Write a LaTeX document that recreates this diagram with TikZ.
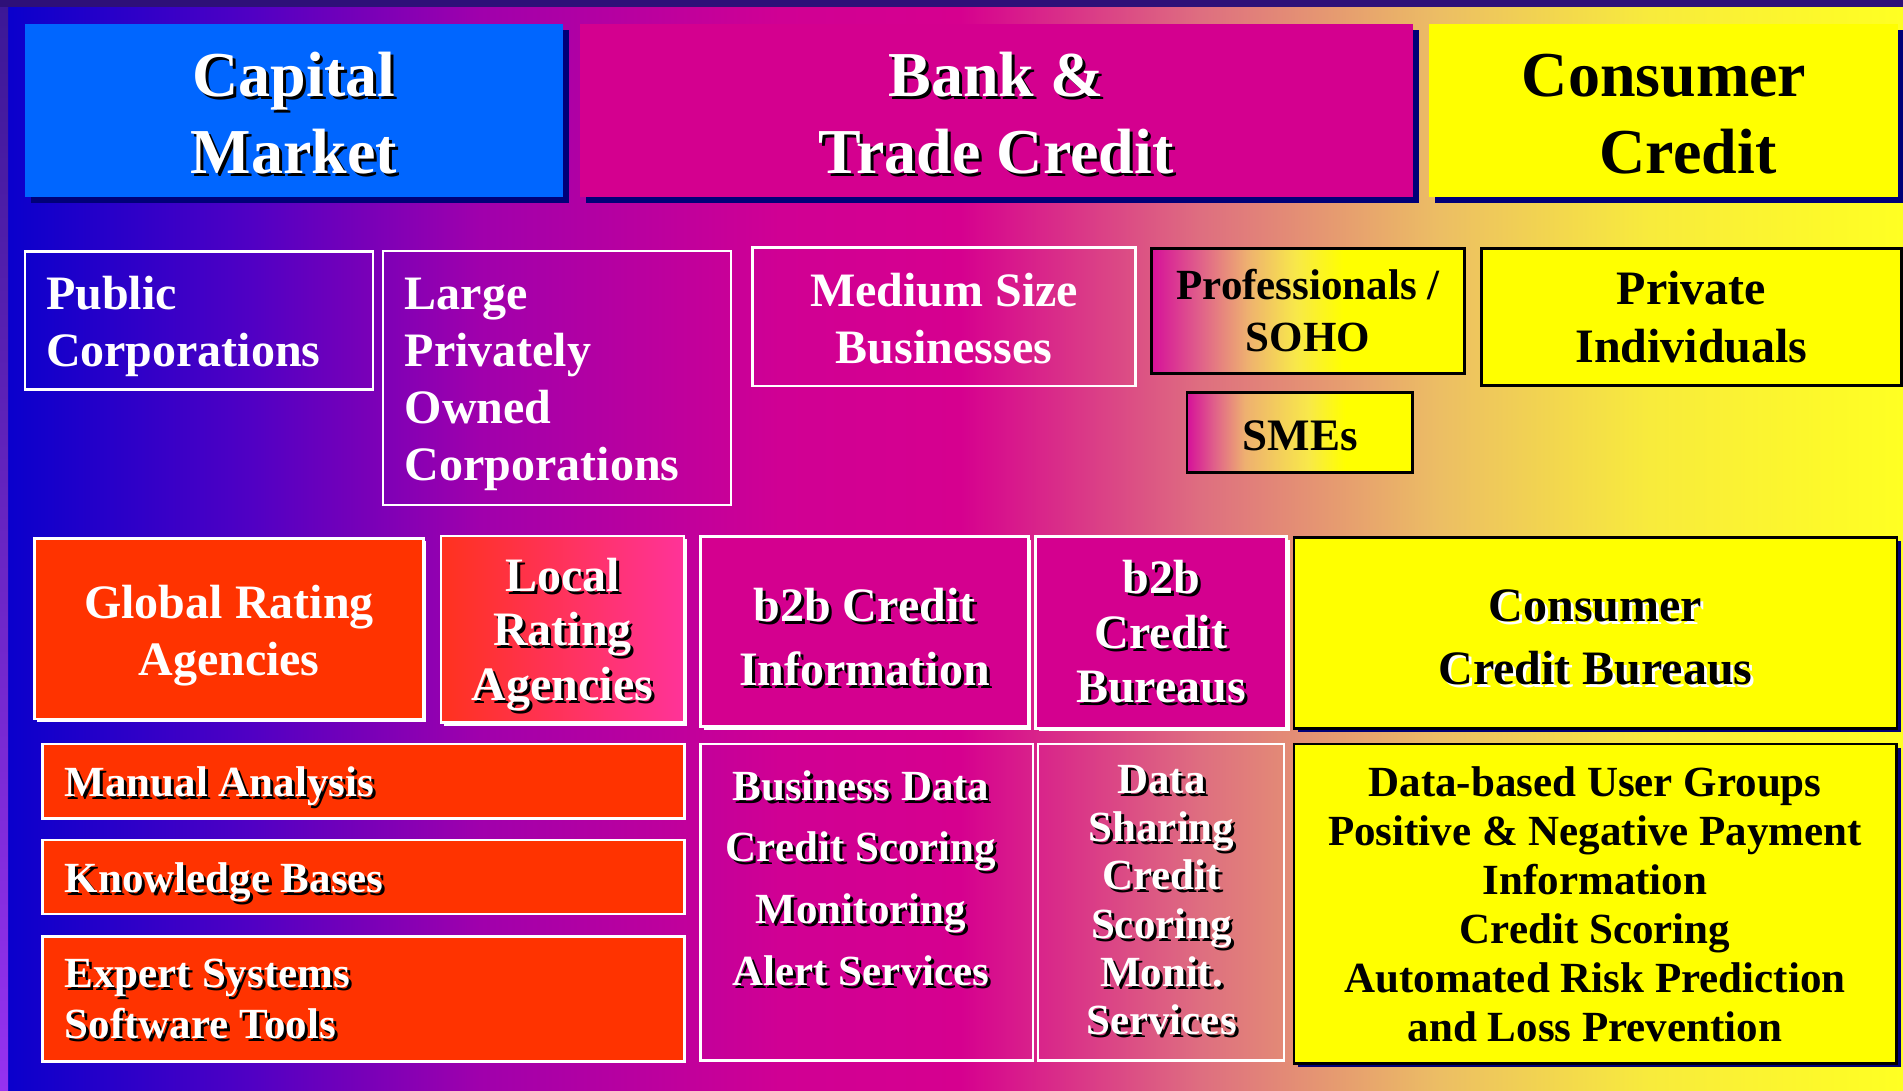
\documentclass[tikz,border=0pt]{standalone}
\usepackage{fontspec}
\setmainfont{Liberation Serif}
\usetikzlibrary{shadows}
\definecolor{capblue}{RGB}{0,102,255}
\definecolor{mag}{RGB}{212,0,143}
\definecolor{navysh}{RGB}{0,0,120}
\definecolor{orng}{RGB}{255,51,0}
\definecolor{yel}{RGB}{255,255,0}
\definecolor{topband}{RGB}{46,16,120}
\definecolor{stripT}{RGB}{60,24,150}
\definecolor{stripB}{RGB}{150,50,240}
\definecolor{bgA}{RGB}{10,0,204}
\definecolor{bgB}{RGB}{80,0,196}
\definecolor{bgC}{RGB}{160,0,172}
\definecolor{bgD}{RGB}{208,0,148}
\definecolor{bgE}{RGB}{214,0,143}
\definecolor{bgF}{RGB}{222,110,128}
\definecolor{bgG}{RGB}{236,190,100}
\definecolor{bgH}{RGB}{248,235,60}
\definecolor{bgI}{RGB}{255,255,34}
\definecolor{pmA}{RGB}{214,16,154}
\definecolor{pmB}{RGB}{224,96,138}
\definecolor{pmC}{RGB}{238,176,112}
\definecolor{pmD}{RGB}{248,232,74}
\definecolor{locL}{RGB}{255,50,30}
\definecolor{locR}{RGB}{255,51,153}
\pgfdeclarehorizontalshading{bgshade}{100bp}{color(0bp)=(bgA); color(25bp)=(bgA); color(31.39bp)=(bgB); color(37.45bp)=(bgC); color(45.37bp)=(bgD); color(50.12bp)=(bgE); color(56.45bp)=(bgF); color(62.78bp)=(bgG); color(68.32bp)=(bgH); color(75bp)=(bgI); color(100bp)=(bgI)}
\pgfdeclarehorizontalshading{proshade}{100bp}{color(0bp)=(pmA); color(25bp)=(pmA); color(32.7bp)=(pmB); color(40.3bp)=(pmC); color(48bp)=(pmD); color(55.7bp)=(yel); color(75bp)=(yel); color(100bp)=(yel)}
\pgfdeclarehorizontalshading{smeshade}{100bp}{color(0bp)=(pmA); color(25bp)=(pmA); color(31bp)=(pmB); color(37.8bp)=(pmC); color(51.8bp)=(pmD); color(60bp)=(yel); color(75bp)=(yel); color(100bp)=(yel)}
\newcommand{\bx}[6]{\node[#6, anchor=north west, inner sep=0pt, outer sep=0pt, minimum width={#4-#2}, minimum height={#5-#3}] (#1) at (#2,#3) {};}
\newcommand{\tl}[6]{\foreach \tline [count=\ti] in {#6}{\node[#5] (#1-\ti) at (#2,{#3+(\ti-1)*(#4)}) {\tline};}}
\newcommand{\tls}[7]{\foreach \tline [count=\ti] in {#6}{\node[#5,text=#7] (#1-s\ti) at ({#2+3},{#3+(\ti-1)*(#4)+3}) {\tline};}\tl{#1}{#2}{#3}{#4}{#5}{#6}}
\tikzset{
  lbl/.style={anchor=base, inner sep=0pt, outer sep=0pt},
  lblw/.style={anchor=base west, inner sep=0pt, outer sep=0pt},
  f64/.style={font=\bfseries\fontsize{64}{64}\selectfont},
  f48/.style={font=\bfseries\fontsize{48}{48}\selectfont},
  f45/.style={font=\bfseries\fontsize{45}{45}\selectfont},
  f43/.style={font=\bfseries\fontsize{43}{43}\selectfont},
  navyshadow/.style={drop shadow={shadow xshift=6pt, shadow yshift=-6pt, fill=navysh, opacity=1}},
  smallnavy/.style={drop shadow={shadow xshift=4pt, shadow yshift=-4pt, fill=navysh, opacity=1}},
  whiteshadow/.style={drop shadow={shadow xshift=3pt, shadow yshift=-3pt, fill=white, opacity=1}},
  wbox/.style={draw=white, line width=2.5pt},
  kbox/.style={draw=black, line width=2.5pt},
}
\begin{document}
\begin{tikzpicture}[x=1pt,y=-1pt]
\useasboundingbox (0,0) rectangle (1903,1091);
% background
\shade[shading=bgshade] (8,7) rectangle (1903,1091);
\shade[top color=stripT, bottom color=stripB] (0,7) rectangle (8,1091);
\fill[topband] (0,0) rectangle (1903,7);
% top row
\bx{cap}{25}{24}{563}{197}{fill=capblue, navyshadow}
\bx{bank}{580}{24}{1412.5}{197}{fill=mag, navyshadow}
\bx{cons}{1429.3}{24}{1897.7}{197}{fill=yel, navyshadow}
\tls{capT}{294}{96.7}{76.6}{lbl,f64,text=white}{Capital,Market}{black}
\tls{bankT}{996}{96.7}{76.6}{lbl,f64,text=white}{Bank \&,Trade Credit}{black}
\tl{consT}{1664}{96.7}{76.6}{lbl,f64,text=black}{Consumer,\hspace*{48pt}Credit}
% second row
\bx{pub}{25.2}{251.7}{373.2}{389.3}{wbox}
\bx{lpo}{383}{251}{731}{505}{wbox}
\bx{med}{752.7}{247.7}{1135.7}{386}{wbox}
\bx{pro}{1151.4}{248.3}{1464.6}{373.3}{kbox, shade, shading=proshade}
\bx{sme}{1187}{392.3}{1412.7}{472.3}{kbox, shade, shading=smeshade}
\bx{pri}{1481.4}{248.3}{1901.7}{385.7}{kbox, fill=yel}
\tl{pubT}{46}{309}{57.7}{lblw,f48,text=white}{Public,Corporations}
\tl{lpoT}{404.7}{309}{57.3}{lblw,f48,text=white}{Large,Privately,Owned,Corporations}
\tl{medT}{944}{306}{57}{lbl,f48,text=white}{Medium Size,Businesses}
\tl{proT}{1308}{300}{51.7}{lbl,f43,text=black}{Professionals /,SOHO}
\tl{smeT}{1300}{450}{50}{lbl,f45,text=black}{SMEs}
\tl{priT}{1691.5}{305}{57.3}{lbl,f48,text=black}{Private,Individuals}
% third row
\bx{glob}{34.4}{538.3}{423.3}{719}{wbox, fill=orng, whiteshadow}
\bx{loc}{440.8}{536}{684.1}{722.7}{wbox, left color=locL, right color=locR, whiteshadow}
\bx{bbi}{700.7}{536.7}{1028.3}{726.7}{wbox, fill=mag, whiteshadow}
\bx{bbb}{1035.7}{536.7}{1286.5}{728.3}{wbox, fill=mag, whiteshadow}
\bx{ccb}{1293.9}{537.3}{1897}{728.3}{kbox, fill=yel, smallnavy}
\tl{globT}{229}{618.3}{56.7}{lbl,f48,text=white}{Global Rating,Agencies}
\tls{locT}{562.5}{591}{54.5}{lbl,f48,text=white}{Local,Rating,Agencies}{black}
\tls{bbiT}{864.5}{621.7}{63.3}{lbl,f48,text=white}{b2b Credit,Information}{black}
\tls{bbbT}{1161}{593.3}{54.7}{lbl,f48,text=white}{b2b,Credit,Bureaus}{black}
\tls{ccbT}{1595.5}{621.7}{62.3}{lbl,f48,text=black}{Consumer,Credit Bureaus}{white}
% fourth row
\bx{man}{42.4}{744}{684.4}{818.3}{wbox, fill=orng}
\bx{kno}{42.4}{840}{684.4}{914}{wbox, fill=orng}
\bx{exp}{42.4}{936.7}{684.4}{1061.7}{wbox, fill=orng}
\bx{bus}{700.4}{744}{1033}{1060.7}{wbox}
\bx{dsh}{1038}{744}{1284}{1060.7}{wbox}
\bx{dbu}{1293.9}{744}{1896.6}{1063.3}{kbox, fill=yel, smallnavy}
\tls{manT}{64.7}{796.7}{50}{lblw,f43,text=white}{Manual Analysis}{black}
\tls{knoT}{64.7}{892.3}{50}{lblw,f43,text=white}{Knowledge Bases}{black}
\tls{expT}{64.7}{987.7}{50.6}{lblw,f43,text=white}{Expert Systems,Software Tools}{black}
\tls{busT}{861}{800}{61.7}{lbl,f43,text=white}{Business Data,Credit Scoring,Monitoring,Alert Services}{black}
\tls{dshT}{1161.5}{793.3}{48.3}{lbl,f43,text=white}{Data,Sharing,Credit,Scoring,Monit.,Services}{black}
\tl{dbuT}{1595}{796}{49.1}{lbl,f43,text=black}{Data-based User Groups,Positive \& Negative Payment,Information,Credit Scoring,Automated Risk Prediction,and Loss Prevention}
\end{tikzpicture}
\end{document}
